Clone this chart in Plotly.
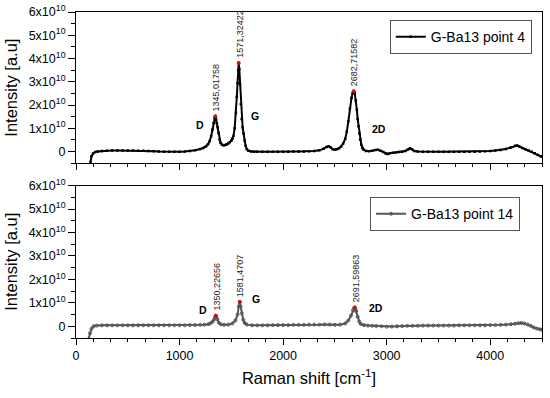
import plotly.graph_objects as go

# ---------------- data ----------------
# Top spectrum: G-Ba13 point 4
shift_p4 = [140, 150, 165, 185, 210, 250, 300, 350, 400, 450, 500, 550, 600, 650, 700, 750, 800, 850,
            900, 950, 1000, 1050, 1100, 1150, 1200, 1230, 1255, 1275, 1290, 1305, 1318, 1328, 1338,
            1345, 1352, 1360, 1368, 1376, 1386, 1396, 1410, 1425, 1440, 1455, 1470, 1485, 1500, 1512,
            1521, 1532, 1544, 1553, 1560, 1566, 1571, 1577, 1584, 1592, 1600, 1609, 1618, 1628, 1638,
            1650, 1665, 1690, 1720, 1750, 1800, 1850, 1900, 1950, 2000, 2050, 2100, 2150, 2200, 2250,
            2300, 2350, 2390, 2420, 2440, 2460, 2480, 2500, 2520, 2540, 2560, 2580, 2600, 2615, 2630,
            2645, 2660, 2672, 2682, 2692, 2702, 2712, 2720, 2728, 2736, 2744, 2755, 2766, 2776, 2800,
            2830, 2860, 2890, 2915, 2940, 2965, 2990, 3010, 3030, 3060, 3090, 3120, 3150, 3180, 3205,
            3225, 3245, 3265, 3300, 3350, 3400, 3450, 3500, 3550, 3600, 3650, 3700, 3750, 3800, 3850,
            3900, 3950, 4000, 4050, 4100, 4150, 4200, 4240, 4260, 4280, 4310, 4340, 4370, 4400, 4430,
            4460, 4490, 4500]
intensity_p4 = [-0.45e10, -0.2e10, -0.08e10, -0.02e10, 0.01e10, 0.03e10, 0.04e10, 0.05e10, 0.05e10,
                0.05e10, 0.05e10, 0.05e10, 0.04e10, 0.04e10, 0.03e10, 0.02e10, 0.01e10, 0.0, -0.01e10,
                -0.01e10, 0.0, 0.01e10, 0.03e10, 0.06e10, 0.11e10, 0.16e10, 0.22e10, 0.32e10, 0.45e10,
                0.66e10, 0.95e10, 1.23e10, 1.45e10, 1.52e10, 1.40e10, 1.22e10, 1.05e10, 0.80e10,
                0.52e10, 0.38e10, 0.30e10, 0.27e10, 0.28e10, 0.31e10, 0.35e10, 0.40e10, 0.47e10,
                0.56e10, 0.68e10, 1.00e10, 1.66e10, 2.35e10, 2.95e10, 3.50e10, 3.81e10, 3.55e10,
                2.90e10, 2.05e10, 1.40e10, 1.05e10, 0.78e10, 0.48e10, 0.25e10, 0.10e10, 0.04e10,
                0.01e10, 0.0, 0.0, -0.01e10, -0.01e10, 0.0, 0.0, 0.0, 0.0, 0.01e10, 0.01e10, 0.01e10,
                0.02e10, 0.03e10, 0.06e10, 0.12e10, 0.20e10, 0.23e10, 0.18e10, 0.10e10, 0.08e10,
                0.10e10, 0.15e10, 0.22e10, 0.35e10, 0.55e10, 0.85e10, 1.30e10, 1.85e10, 2.30e10,
                2.52e10, 2.59e10, 2.50e10, 2.20e10, 1.80e10, 1.40e10, 1.09e10, 0.78e10, 0.52e10,
                0.30e10, 0.16e10, 0.09e10, 0.03e10, 0.02e10, 0.04e10, 0.07e10, 0.08e10, 0.04e10,
                -0.02e10, -0.08e10, -0.10e10, -0.07e10, -0.05e10, -0.04e10, -0.02e10, -0.01e10,
                0.03e10, 0.09e10, 0.14e10, 0.10e10, 0.03e10, 0.01e10, 0.0, 0.0, 0.0, 0.0, 0.0, 0.0,
                0.0, 0.0, 0.0, 0.0, 0.0, 0.01e10, 0.02e10, 0.03e10, 0.05e10, 0.07e10, 0.11e10,
                0.18e10, 0.25e10, 0.26e10, 0.22e10, 0.16e10, 0.10e10, 0.05e10, 0.0, -0.07e10,
                -0.14e10, -0.20e10, -0.22e10]

# Bottom spectrum: G-Ba13 point 14
shift_p14 = [120, 135, 150, 170, 200, 250, 300, 350, 400, 450, 500, 550, 600, 650, 700, 750, 800, 850,
             900, 950, 1000, 1050, 1100, 1150, 1200, 1240, 1280, 1300, 1320, 1335, 1345, 1350, 1355,
             1365, 1380, 1400, 1430, 1470, 1510, 1540, 1560, 1572, 1581, 1590, 1600, 1615, 1630, 1650,
             1700, 1750, 1800, 1850, 1900, 1950, 2000, 2050, 2100, 2150, 2200, 2250, 2300, 2350, 2400,
             2450, 2500, 2550, 2600, 2630, 2655, 2675, 2685, 2691, 2698, 2705, 2720, 2735, 2750, 2780,
             2820, 2860, 2900, 2950, 3000, 3050, 3100, 3150, 3200, 3250, 3300, 3350, 3400, 3450, 3500,
             3550, 3600, 3650, 3700, 3750, 3800, 3850, 3900, 3950, 4000, 4050, 4100, 4150, 4200, 4240,
             4273, 4300, 4330, 4360, 4390, 4420, 4450, 4480, 4500]
intensity_p14 = [-0.55e10, -0.3e10, -0.1e10, 0.0, 0.03e10, 0.04e10, 0.04e10, 0.04e10, 0.04e10,
                 0.04e10, 0.04e10, 0.04e10, 0.04e10, 0.04e10, 0.04e10, 0.04e10, 0.04e10, 0.04e10,
                 0.04e10, 0.04e10, 0.04e10, 0.04e10, 0.05e10, 0.05e10, 0.06e10, 0.07e10, 0.09e10,
                 0.13e10, 0.2e10, 0.3e10, 0.4e10, 0.45e10, 0.41e10, 0.3e10, 0.15e10, 0.08e10,
                 0.06e10, 0.07e10, 0.12e10, 0.25e10, 0.5e10, 0.85e10, 1.04e10, 0.85e10, 0.55e10,
                 0.28e10, 0.14e10, 0.07e10, 0.04e10, 0.04e10, 0.04e10, 0.04e10, 0.05e10, 0.05e10,
                 0.05e10, 0.05e10, 0.06e10, 0.06e10, 0.06e10, 0.07e10, 0.07e10, 0.07e10, 0.08e10,
                 0.07e10, 0.06e10, 0.07e10, 0.12e10, 0.25e10, 0.45e10, 0.68e10, 0.76e10, 0.8e10,
                 0.75e10, 0.65e10, 0.4e10, 0.2e10, 0.1e10, 0.05e10, 0.03e10, 0.02e10, 0.01e10,
                 0.0, -0.02e10, -0.01e10, 0.0, 0.01e10, 0.02e10, 0.02e10, 0.02e10, 0.03e10, 0.03e10,
                 0.03e10, 0.03e10, 0.03e10, 0.03e10, 0.03e10, 0.04e10, 0.04e10, 0.04e10, 0.04e10,
                 0.04e10, 0.04e10, 0.05e10, 0.05e10, 0.06e10, 0.07e10, 0.09e10, 0.11e10, 0.13e10,
                 0.14e10, 0.12e10, 0.08e10, 0.02e10, -0.05e10, -0.1e10, -0.13e10, -0.15e10, -0.16e10]

# Peak positions / heights and labels
peak_x_p4 = [1345.01758, 1571.32422, 2682.71582]
peak_y_p4 = [1.52e10, 3.81e10, 2.59e10]
peak_lbl_p4 = ["1345,01758", "1571,32422", "2682,71582"]
peak_x_p14 = [1350.22656, 1581.4707, 2691.59863]
peak_y_p14 = [0.45e10, 1.04e10, 0.8e10]
peak_lbl_p14 = ["1350,22656", "1581,4707", "2691,59863"]

band_names = ["D", "G", "2D"]
band_pos_p4 = [(1200, 1.16e10), (1724, 1.55e10), (2928, 0.98e10)]
band_pos_p14 = [(1226, 0.68e10), (1737, 1.18e10), (2896, 0.80e10)]

series_names = ["G-Ba13 point 4", "G-Ba13 point 14"]

x_ticks = [0, 1000, 2000, 3000, 4000]
y_ticks = [0, 1e10, 2e10, 3e10, 4e10, 5e10, 6e10]
y_ticktext = ["0", "1x10<sup>10</sup>", "2x10<sup>10</sup>", "3x10<sup>10</sup>",
              "4x10<sup>10</sup>", "5x10<sup>10</sup>", "6x10<sup>10</sup>"]

# ---------------- figure ----------------
FONT = "Liberation Sans, Arial, sans-serif"
fig = go.Figure()

fig.add_trace(go.Scatter(
    x=shift_p4, y=intensity_p4, mode="lines+markers", name=series_names[0],
    line=dict(color="black", width=2),
    marker=dict(symbol="square", size=2.5, color="black"),
    xaxis="x", yaxis="y", legend="legend"))
fig.add_trace(go.Scatter(
    x=peak_x_p4, y=peak_y_p4, mode="markers", showlegend=False,
    marker=dict(size=4, color="#d01010"), xaxis="x", yaxis="y"))

fig.add_trace(go.Scatter(
    x=shift_p14, y=intensity_p14, mode="lines+markers", name=series_names[1],
    line=dict(color="#555555", width=2),
    marker=dict(symbol="circle-open", size=3, color="#555555", line=dict(width=1)),
    xaxis="x2", yaxis="y2", legend="legend2"))
fig.add_trace(go.Scatter(
    x=peak_x_p14, y=peak_y_p14, mode="markers", showlegend=False,
    marker=dict(size=4, color="#d01010"), xaxis="x2", yaxis="y2"))

annotations = []
for xr, yr, px, py, pl, bpos in [("x", "y", peak_x_p4, peak_y_p4, peak_lbl_p4, band_pos_p4),
                                 ("x2", "y2", peak_x_p14, peak_y_p14, peak_lbl_p14, band_pos_p14)]:
    for xv, yv, t in zip(px, py, pl):
        annotations.append(dict(x=xv, y=yv, xref=xr, yref=yr, text=t, textangle=-90,
                                showarrow=False, yanchor="bottom", xanchor="center",
                                yshift=3, xshift=1,
                                font=dict(family=FONT, size=9, color="#222222")))
    for name, (bx, by) in zip(band_names, bpos):
        annotations.append(dict(x=bx, y=by, xref=xr, yref=yr, text="<b>%s</b>" % name,
                                showarrow=False, font=dict(family=FONT, size=10.5, color="black")))

tickfont = dict(family=FONT, size=12.5, color="black")
common_x = dict(range=[0, 4500], showline=True, linecolor="black", linewidth=1,
                ticks="outside", ticklen=6, tickcolor="black", tickvals=x_ticks,
                minor=dict(ticks="outside", ticklen=3, dtick=1000 / 6, tick0=0, tickcolor="black"),
                showgrid=False, zeroline=False, tickfont=tickfont, automargin=False)
common_y = dict(range=[-0.5e10, 6e10], showline=True, linecolor="black", linewidth=1,
                ticks="outside", ticklen=7, tickcolor="black", tickvals=y_ticks,
                ticktext=y_ticktext,
                minor=dict(ticks="outside", ticklen=4, dtick=0.5e10, tick0=0, tickcolor="black"),
                showgrid=False, zeroline=False, tickfont=tickfont, automargin=False)
mirror_x = dict(range=[0, 4500], showline=False, ticks="inside", ticklen=6, tickcolor="black",
                tickvals=x_ticks, showticklabels=False, side="top", automargin=False,
                minor=dict(ticks="inside", ticklen=3, dtick=1000 / 6, tick0=0, tickcolor="black"),
                showgrid=False, zeroline=False)
mirror_y = dict(range=[-0.5e10, 6e10], showline=False, ticks="inside", ticklen=7,
                tickcolor="black", tickvals=y_ticks, showticklabels=False, side="right",
                automargin=False,
                minor=dict(ticks="inside", ticklen=4, dtick=0.5e10, tick0=0, tickcolor="black"),
                showgrid=False, zeroline=False)

title_font = dict(family=FONT, size=16.5, color="black")

fig.update_layout(
    width=550, height=398,
    margin=dict(l=76, r=8, t=12, b=60, autoexpand=False),
    paper_bgcolor="white", plot_bgcolor="white",
    font=dict(family=FONT, color="black"),
    xaxis=dict(**common_x, anchor="y", showticklabels=False, mirror=True),
    yaxis=dict(**common_y, domain=[0.536, 1], anchor="x", mirror=True,
               title=dict(text="Intensity [a.u]", font=title_font, standoff=6)),
    xaxis2=dict(**common_x, anchor="y2", mirror=True,
                title=dict(text="Raman shift [cm<sup>-1</sup>]", font=title_font, standoff=10)),
    yaxis2=dict(**common_y, domain=[0, 0.4675], anchor="x2", mirror=True,
                title=dict(text="Intensity [a.u]", font=title_font, standoff=6)),
    xaxis3=dict(**mirror_x, overlaying="x", anchor="y"),
    xaxis4=dict(**mirror_x, overlaying="x2", anchor="y2"),
    yaxis3=dict(**mirror_y, overlaying="y", anchor="x"),
    yaxis4=dict(**mirror_y, overlaying="y2", anchor="x2"),
    legend=dict(x=0.978, y=0.975, xanchor="right", yanchor="top", bgcolor="white",
                bordercolor="#555555", borderwidth=1, itemwidth=30,
                font=dict(family=FONT, size=14, color="black")),
    legend2=dict(x=0.953, y=0.432, xanchor="right", yanchor="top", bgcolor="white",
                 bordercolor="#555555", borderwidth=1, itemwidth=30,
                 font=dict(family=FONT, size=14, color="black")),
    annotations=annotations,
    showlegend=True,
)

# remove the default 8px page margin so the figure sits at the window origin
fig.write_html("out.html", config={"displayModeBar": False},
               post_script="document.body.style.margin='0';")
